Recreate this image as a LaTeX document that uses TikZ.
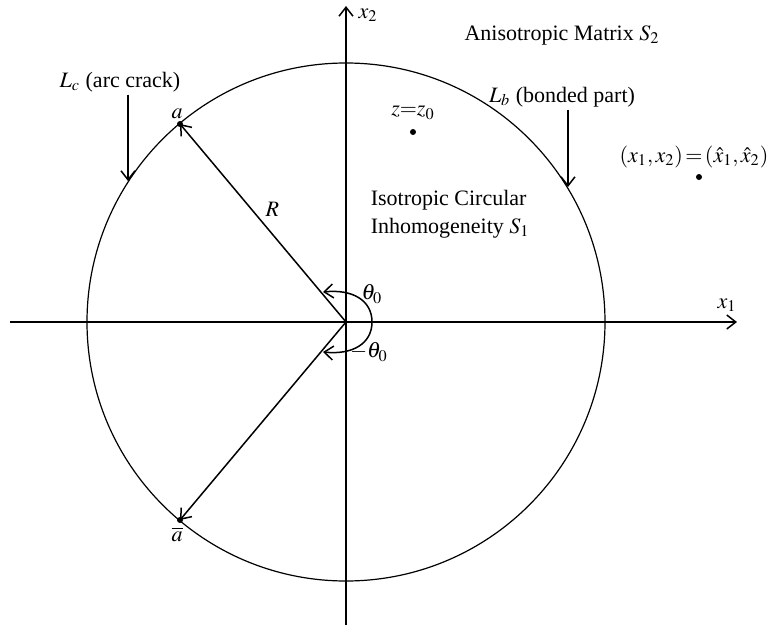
\documentclass[tikz,border=0pt]{standalone}
\usepackage{mathptmx}
\usepackage{fontspec}
\setmainfont{Liberation Serif}
\usetikzlibrary{arrows,arrows.meta,positioning}

\begin{document}
\begin{tikzpicture}[
  x=0.5pt,y=-0.5pt,
  line width=0.75pt,
  >={Straight Barb[length=4.5pt,width=7pt]},
  font=\fontsize{11}{14}\selectfont,
  pt/.style={circle,fill,inner sep=0pt,minimum size=3pt},
  lbl/.style={inner sep=1pt}
]
  \useasboundingbox (0,0) rectangle (768,627);
  \coordinate (O) at (346,322);

  % axes
  \coordinate (xl) at (10,322);
  \coordinate (xr) at (737,322);
  \coordinate (yb) at (346,625);
  \coordinate (yt) at (346,6);
  \draw[->] (xl) -- (xr);
  \draw[->] (yb) -- (yt);
  \node[lbl] (x1) at (727,305) {$x_1$};
  \node[lbl] (x2) at (368,15) {$x_2$};

  % interface
  \draw[line width=0.6pt] (O) circle[radius=259];

  % crack tips
  \coordinate (a) at (180,124);
  \coordinate (ab) at (180,520);
  \draw[->] (O) -- node[lbl,above right=2pt and 0pt] (R) {$R$} (a);
  \draw[->] (O) -- (ab);
  \node[pt] (da) at (a) {};
  \node[pt] (dab) at (ab) {};
  \node[lbl,above left=0pt and -4pt of da] (alab) {$a$};
  \node[lbl,below left=1pt and -4pt of dab] (ablab) {$\overline{a}$};

  % angle
  \coordinate (t1) at (323,292);
  \coordinate (t2) at (323,352);
  \coordinate (r) at (372,322);
  \draw[<->] (t1) .. controls (352,289) and (372,300) .. (r)
    .. controls (372,344) and (352,355) .. (t2);
  \node[lbl] (th) at (372,294) {$\theta_0$};
  \node[lbl] (mth) at (369,352) {$-\theta_0$};

  % labels
  \node[lbl] (Lc) at (120,82) {$L_c$ (arc crack)};
  \coordinate (Lctip) at (128,181);
  \draw[->] (Lctip |- Lc.south) -- (Lctip);
  \node[lbl] (Lb) at (562,97) {$L_b$ (bonded part)};
  \coordinate (Lbtip) at (568,187);
  \draw[->] (Lbtip |- Lb.south) -- (Lbtip);
  \node[lbl] (mat) at (562,35) {Anisotropic Matrix $S_2$};
  \node[lbl,align=left,anchor=west] (inc) at (368,214) {Isotropic Circular\\Inhomogeneity $S_1$};

  % points
  \node[pt] (z0) at (413,132) {};
  \node[lbl,above=3pt of z0] (z0lab) {$z{=}z_0$};
  \node[pt] (xh) at (699,177) {};
  \node[inner sep=0pt] (xhlab) at (694,157) {$(x_1,x_2)\,{=}\,(\hat{x}_1,\hat{x}_2)$};
\end{tikzpicture}
\end{document}
